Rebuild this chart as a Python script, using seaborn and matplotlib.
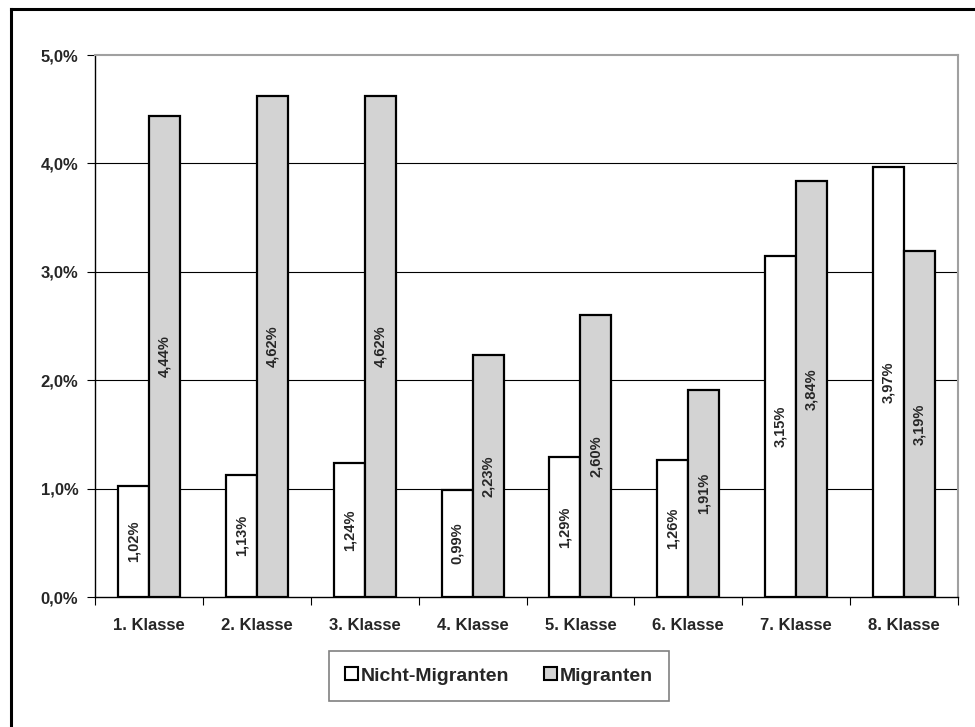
import matplotlib
matplotlib.use("Agg")
import matplotlib.pyplot as plt
import matplotlib.patches as mpatches
import matplotlib.lines as mlines
import seaborn as sns
import pandas as pd
import numpy as np

# Chart data
klassen = ["1. Klasse", "2. Klasse", "3. Klasse", "4. Klasse",
           "5. Klasse", "6. Klasse", "7. Klasse", "8. Klasse"]
nicht_migranten = [1.02, 1.13, 1.24, 0.99, 1.29, 1.26, 3.15, 3.97]
migranten = [4.44, 4.62, 4.62, 2.23, 2.60, 1.91, 3.84, 3.19]
gruppen = ["Nicht-Migranten", "Migranten"]
y_ticks = [0, 1, 2, 3, 4, 5]

sns.set_theme(style="white")
plt.rcParams["font.family"] = ["Liberation Sans", "DejaVu Sans"]
plt.rcParams["font.weight"] = "bold"

df = pd.DataFrame({
    "Klasse": klassen * 2,
    "Gruppe": [gruppen[0]] * len(klassen) + [gruppen[1]] * len(klassen),
    "Wert": nicht_migranten + migranten,
})

W, H = 975, 727
fig = plt.figure(figsize=(W / 100, H / 100), dpi=100)
fig.patch.set_facecolor("white")

ax = fig.add_axes([95 / W, (H - 597) / H, (958 - 95) / W, (597 - 55) / H])

palette = {gruppen[0]: "#FFFFFF", gruppen[1]: "#D3D3D3"}
sns.barplot(data=df, x="Klasse", y="Wert", hue="Gruppe", order=klassen,
            hue_order=gruppen, palette=palette, width=0.575, gap=0,
            edgecolor="black", linewidth=1.6, saturation=1,
            legend=False, ax=ax, zorder=3)

ax.set_xlim(-0.5, len(klassen) - 0.5)
ax.set_ylim(0, 5)
ax.set_yticks(y_ticks)
ax.set_yticklabels([f"{t:.1f}%".replace(".", ",") for t in y_ticks],
                   fontsize=12, fontweight="bold")
ax.set_xticks(range(len(klassen)))
ax.set_xticklabels(klassen, fontsize=12, fontweight="bold")
ax.set_xlabel("")
ax.set_ylabel("")

# Gridlines at whole percents
for t in y_ticks[1:-1]:
    ax.axhline(t, color="black", linewidth=0.8, zorder=1)

# Category separator ticks on the x axis
ax.set_xticks(np.arange(-0.5, len(klassen), 1), minor=True)
ax.tick_params(axis="x", which="major", length=0, pad=15)
ax.tick_params(axis="x", which="minor", length=6, width=0.8,
               color="black", direction="out", bottom=True)
ax.tick_params(axis="y", which="major", length=6, width=0.8,
               color="black", direction="out", left=True, pad=6)

for side in ["left", "bottom"]:
    ax.spines[side].set_color("black")
    ax.spines[side].set_linewidth(1.0)
for side in ["top", "right"]:
    ax.spines[side].set_color("#A0A0A0")
    ax.spines[side].set_linewidth(1.5)
ax.spines["bottom"].set_zorder(4)

# Value labels, rotated, centred in each bar
for container in ax.containers:
    for bar in container:
        h = bar.get_height()
        ax.text(bar.get_x() + bar.get_width() / 2, h / 2,
                f"{h:.2f}%".replace(".", ","), rotation=90,
                ha="center", va="center", fontsize=10.5,
                fontweight="bold", zorder=5)

# Legend
handles = [mpatches.Patch(facecolor=palette[g], edgecolor="black",
                          linewidth=1.5, label=g) for g in gruppen]
leg = fig.legend(handles=handles, loc="center",
                 bbox_to_anchor=(499 / W, 1 - 676 / H), ncol=2,
                 fontsize=14, frameon=True, fancybox=False,
                 handlelength=0.65, handleheight=0.65, handletextpad=0.15,
                 columnspacing=1.8, borderpad=0.85, borderaxespad=0)
leg.get_frame().set_edgecolor("#606060")
leg.get_frame().set_linewidth(1.2)
for txt in leg.get_texts():
    txt.set_fontweight("bold")

# Outer frame (left and top edges)
fig.add_artist(mlines.Line2D([11 / W, 11 / W], [0, 1 - 9 / H],
                             transform=fig.transFigure, color="black",
                             linewidth=2.2, solid_capstyle="projecting"))
fig.add_artist(mlines.Line2D([11 / W, 1], [1 - 9 / H, 1 - 9 / H],
                             transform=fig.transFigure, color="black",
                             linewidth=2.2, solid_capstyle="projecting"))

fig.savefig("out.png", dpi=100)
